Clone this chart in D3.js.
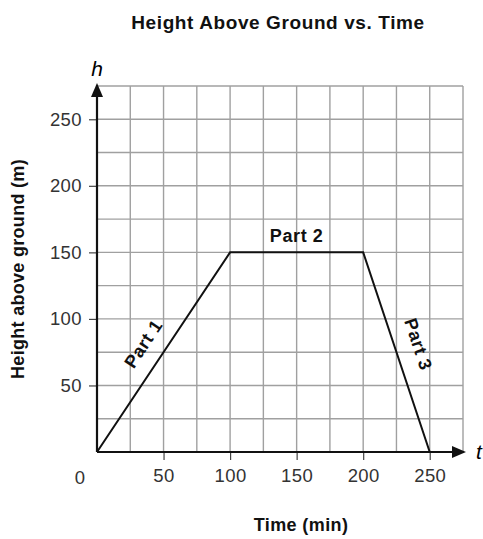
<!DOCTYPE html>
<html>
<head>
<meta charset="utf-8">
<script src="https://cdn.jsdelivr.net/npm/d3@7"></script>
<style>
  body { margin: 0; background: #fff; }
  text { font-family: "Liberation Sans", Arial, Helvetica, sans-serif; }
</style>
</head>
<body>
<svg width="483" height="539"></svg>
<script>
var time = [0, 100, 200, 250];
var height = [0, 150, 150, 0];
var xTicks = [50, 100, 150, 200, 250];
var yTicks = [50, 100, 150, 200, 250];
var gridStep = 25;
var partLabels = ["Part 1", "Part 2", "Part 3"];

var svg = d3.select("svg");

var x = d3.scaleLinear().domain([0, 275]).range([97, 463]);
var y = d3.scaleLinear().domain([0, 275]).range([452, 86]);

var gridVals = d3.range(gridStep, 275 + 1, gridStep);

// grid
var grid = svg.append("g").attr("stroke", "#a0a0a0").attr("stroke-width", 1.4);
grid.selectAll("line.v").data(gridVals).enter().append("line")
    .attr("x1", d => x(d)).attr("x2", d => x(d))
    .attr("y1", y(0)).attr("y2", y(275));
grid.selectAll("line.h").data(gridVals).enter().append("line")
    .attr("x1", x(0)).attr("x2", x(275))
    .attr("y1", d => y(d)).attr("y2", d => y(d));

// axes
var xAxis = svg.append("g")
    .attr("transform", "translate(0," + y(0) + ")")
    .call(d3.axisBottom(x).tickValues(xTicks).tickSize(8).tickPadding(9));
var yAxis = svg.append("g")
    .attr("transform", "translate(" + x(0) + ",0)")
    .call(d3.axisLeft(y).tickValues(yTicks).tickSize(8).tickPadding(7));
[xAxis, yAxis].forEach(function(g) {
    g.select(".domain").remove();
    g.selectAll(".tick line").attr("stroke", "#444").attr("stroke-width", 1.2);
    g.selectAll(".tick text").attr("font-size", 18.5).attr("fill", "#333")
        .attr("letter-spacing", 0.4)
        .attr("font-family", "'Liberation Sans', Arial, sans-serif");
});

svg.append("text").attr("x", 80).attr("y", 484).attr("text-anchor", "middle")
    .attr("font-size", 18.5).attr("fill", "#333").text("0");

// axis lines with arrows
svg.append("line").attr("x1", x(0)).attr("x2", x(275) - 8)
    .attr("y1", y(0)).attr("y2", y(0)).attr("stroke", "#111").attr("stroke-width", 2.2);
svg.append("path")
    .attr("d", "M" + (x(275) + 3) + "," + y(0) + "l-14,-6l0,12z").attr("fill", "#111");
svg.append("line").attr("x1", x(0)).attr("x2", x(0))
    .attr("y1", y(0)).attr("y2", y(275) + 8).attr("stroke", "#111").attr("stroke-width", 2.2);
svg.append("path")
    .attr("d", "M" + x(0) + "," + (y(275) - 3) + "l-6,14l12,0z").attr("fill", "#111");

svg.append("text").attr("x", x(0)).attr("y", 76).attr("text-anchor", "middle")
    .attr("font-family", "'Liberation Serif', 'DejaVu Serif', serif").attr("font-style", "italic")
    .attr("font-size", 21).text("h");
svg.append("text").attr("x", 479).attr("y", 459).attr("text-anchor", "middle")
    .attr("font-family", "'Liberation Serif', 'DejaVu Serif', serif").attr("font-style", "italic")
    .attr("font-size", 21).text("t");

// data line
var pts = time.map((t, i) => [t, height[i]]);
svg.append("path").datum(pts)
    .attr("fill", "none").attr("stroke", "#111").attr("stroke-width", 2)
    .attr("d", d3.line().x(d => x(d[0])).y(d => y(d[1])));

// part labels, placed at segment midpoints and rotated along them
function segAngle(i) {
    var dx = x(time[i + 1]) - x(time[i]), dy = y(height[i + 1]) - y(height[i]);
    return Math.atan2(dy, dx) * 180 / Math.PI;
}
var offsets = [[-15, -5], [0, -10], [16, -6]];
partLabels.forEach(function(lbl, i) {
    var mx = x((time[i] + time[i + 1]) / 2) + offsets[i][0];
    var my = y((height[i] + height[i + 1]) / 2) + offsets[i][1];
    svg.append("text")
        .attr("transform", "translate(" + mx + "," + my + ") rotate(" + segAngle(i) + ")")
        .attr("text-anchor", "middle")
        .attr("font-size", 18).attr("font-weight", "bold").attr("fill", "#111")
        .attr("letter-spacing", 0.6)
        .text(lbl);
});

// titles
svg.append("text").attr("x", 278).attr("y", 29).attr("text-anchor", "middle")
    .attr("font-size", 19).attr("font-weight", "bold").attr("fill", "#111")
    .attr("letter-spacing", 0.6)
    .text("Height Above Ground vs. Time");
svg.append("text").attr("x", 301).attr("y", 531).attr("text-anchor", "middle")
    .attr("font-size", 18).attr("font-weight", "bold").attr("fill", "#111")
    .attr("letter-spacing", 0.4)
    .text("Time (min)");
svg.append("text").attr("transform", "translate(24,269) rotate(-90)")
    .attr("text-anchor", "middle")
    .attr("font-size", 18).attr("font-weight", "bold").attr("fill", "#111")
    .attr("letter-spacing", 0.3)
    .text("Height above ground (m)");
</script>
</body>
</html>
